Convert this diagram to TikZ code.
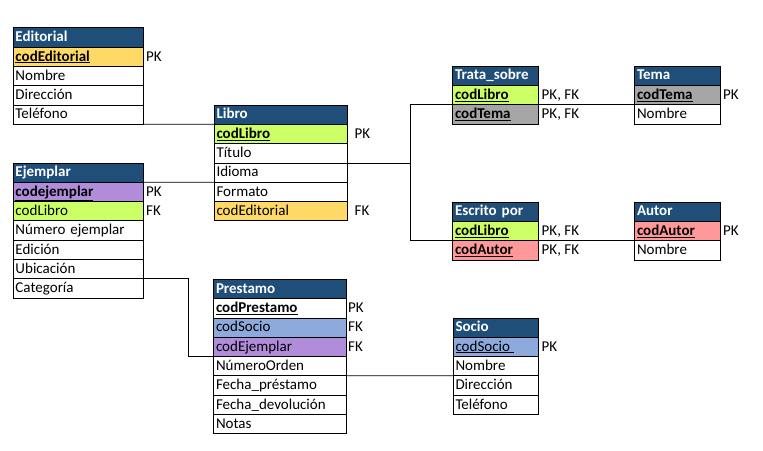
\documentclass[tikz,border=0pt]{standalone}
\usepackage{fontspec}
\setmainfont{Carlito}
\usetikzlibrary{positioning}
\definecolor{hdrblue}{HTML}{1F4E79}
\definecolor{keyyellow}{HTML}{FFD966}
\definecolor{keylime}{HTML}{CCFF66}
\definecolor{keypurple}{HTML}{B18CDB}
\definecolor{keygray}{HTML}{A6A6A6}
\definecolor{keysalmon}{HTML}{FF9999}
\definecolor{keyblue}{HTML}{8EA9DB}
\newcommand{\ulkey}[1]{\textbf{\underline{#1}}}

\begin{document}
\begin{tikzpicture}[x=1pt, y=-1pt,
  font=\fontsize{15pt}{17pt}\selectfont,
  cell/.style={draw, line width=0.8pt, outer sep=0pt, inner xsep=2.5pt, inner ysep=0pt,
    minimum height=19.3pt, text height=11pt, text depth=2.5pt, text width=#1, align=left},
  hdr/.style={cell=#1, fill=hdrblue, text=white, font=\fontsize{15pt}{17pt}\selectfont\bfseries},
  key/.style={inner sep=0pt, text height=11pt, text depth=2.5pt},
  link/.style={line width=0.8pt}
]
\useasboundingbox (0,0) rectangle (763,450);

% Editorial
\node[hdr=125pt, anchor=north west] (ed0) at (13,27.8) {Editorial};
\node[cell=125pt, below=0pt of ed0, fill=keyyellow] (ed1) {\ulkey{codEditorial}};
\node[cell=125pt, below=0pt of ed1] (ed2) {Nombre};
\node[cell=125pt, below=0pt of ed2] (ed3) {Dirección};
\node[cell=125pt, below=0pt of ed3] (ed4) {Teléfono};
\node[key, right=3pt of ed1] {PK};

% Libro
\node[hdr=128pt, anchor=north west] (li0) at (214,105) {Libro};
\node[cell=128pt, below=0pt of li0, fill=keylime] (li1) {\ulkey{codLibro}};
\node[cell=128pt, below=0pt of li1] (li2) {Título};
\node[cell=128pt, below=0pt of li2] (li3) {Idioma};
\node[cell=128pt, below=0pt of li3] (li4) {Formato};
\node[cell=128pt, below=0pt of li4, fill=keyyellow] (li5) {codEditorial};
\node[key, right=7.5pt of li1] {PK};
\node[key, right=7.5pt of li5] {FK};

% Ejemplar
\node[hdr=125pt, anchor=north west] (ej0) at (13,162.9) {Ejemplar};
\node[cell=125pt, below=0pt of ej0, fill=keypurple] (ej1) {\ulkey{codejemplar}};
\node[cell=125pt, below=0pt of ej1, fill=keylime] (ej2) {codLibro};
\node[cell=125pt, below=0pt of ej2] (ej3) {Número ejemplar};
\node[cell=125pt, below=0pt of ej3] (ej4) {Edición};
\node[cell=125pt, below=0pt of ej4] (ej5) {Ubicación};
\node[cell=125pt, below=0pt of ej5] (ej6) {Categoría};
\node[key, right=3pt of ej1] {PK};
\node[key, right=3pt of ej2] {FK};

% Prestamo
\node[hdr=128pt, anchor=north west] (pr0) at (213.5,279.3) {Prestamo};
\node[cell=128pt, below=0pt of pr0] (pr1) {\ulkey{codPrestamo}};
\node[cell=128pt, below=0pt of pr1, fill=keyblue] (pr2) {codSocio};
\node[cell=128pt, below=0pt of pr2, fill=keypurple] (pr3) {codEjemplar};
\node[cell=128pt, below=0pt of pr3] (pr4) {NúmeroOrden};
\node[cell=128pt, below=0pt of pr4] (pr5) {Fecha\_préstamo};
\node[cell=128pt, below=0pt of pr5] (pr6) {Fecha\_devolución};
\node[cell=128pt, below=0pt of pr6] (pr7) {Notas};
\node[key, right=1.5pt of pr1] {PK};
\node[key, right=1.5pt of pr2] {FK};
\node[key, right=1.5pt of pr3] {FK};

% Trata_sobre and Tema
\node[hdr=81pt, anchor=north west] (ts0) at (452.5,66) {Trata\_sobre};
\node[cell=81pt, below=0pt of ts0, fill=keylime] (ts1) {\ulkey{codLibro}};
\node[cell=81pt, below=0pt of ts1, fill=keygray] (ts2) {\ulkey{codTema}};
\node[key, right=3pt of ts1] {PK, FK};
\node[key, right=3pt of ts2] {PK, FK};
\node[hdr=81pt, anchor=north west] (tm0) at (634.5,66) {Tema};
\node[cell=81pt, below=0pt of tm0, fill=keygray] (tm1) {\ulkey{codTema}};
\node[cell=81pt, below=0pt of tm1] (tm2) {Nombre};
\node[key, right=2.5pt of tm1] {PK};

% Escrito por and Autor
\node[hdr=81pt, anchor=north west] (es0) at (452.5,202) {Escrito por};
\node[cell=81pt, below=0pt of es0, fill=keylime] (es1) {\ulkey{codLibro}};
\node[cell=81pt, below=0pt of es1, fill=keysalmon] (es2) {\ulkey{codAutor}};
\node[key, right=3pt of es1] {PK, FK};
\node[key, right=3pt of es2] {PK, FK};
\node[hdr=81pt, anchor=north west] (au0) at (634.5,202) {Autor};
\node[cell=81pt, below=0pt of au0, fill=keysalmon] (au1) {\ulkey{codAutor}};
\node[cell=81pt, below=0pt of au1] (au2) {Nombre};
\node[key, right=2.5pt of au1] {PK};

% Socio
\node[hdr=80.5pt, anchor=north west] (so0) at (453,317.9) {Socio};
\node[cell=80.5pt, below=0pt of so0, fill=keyblue] (so1) {\underline{codSocio\hspace{4pt}}};
\node[cell=80.5pt, below=0pt of so1] (so2) {Nombre};
\node[cell=80.5pt, below=0pt of so2] (so3) {Dirección};
\node[cell=80.5pt, below=0pt of so3] (so4) {Teléfono};
\node[key, right=3pt of so1] {PK};

% relationships
\coordinate (hub) at (410.5,0);
\coordinate (bend) at (188.5,0);
\draw[link] (ed4.south east) -- (li0.south west);
\draw[link] (ej0.south east) -- (li3.south west);
\draw[link] (li2.south east) -- (li2.south east -| hub);
\draw[link] (ts1.south west) -- (ts1.south west -| hub) |- (es1.south west);
\draw[link] (ts1.south east) -- (tm1.south west);
\draw[link] (es1.south east) -- (au1.south west);
\draw[link] (ej5.south east) -- (ej5.south east -| bend) |- (pr3.south west);
\draw[link] (pr4.south east) -- (so2.south west);
\end{tikzpicture}
\end{document}
